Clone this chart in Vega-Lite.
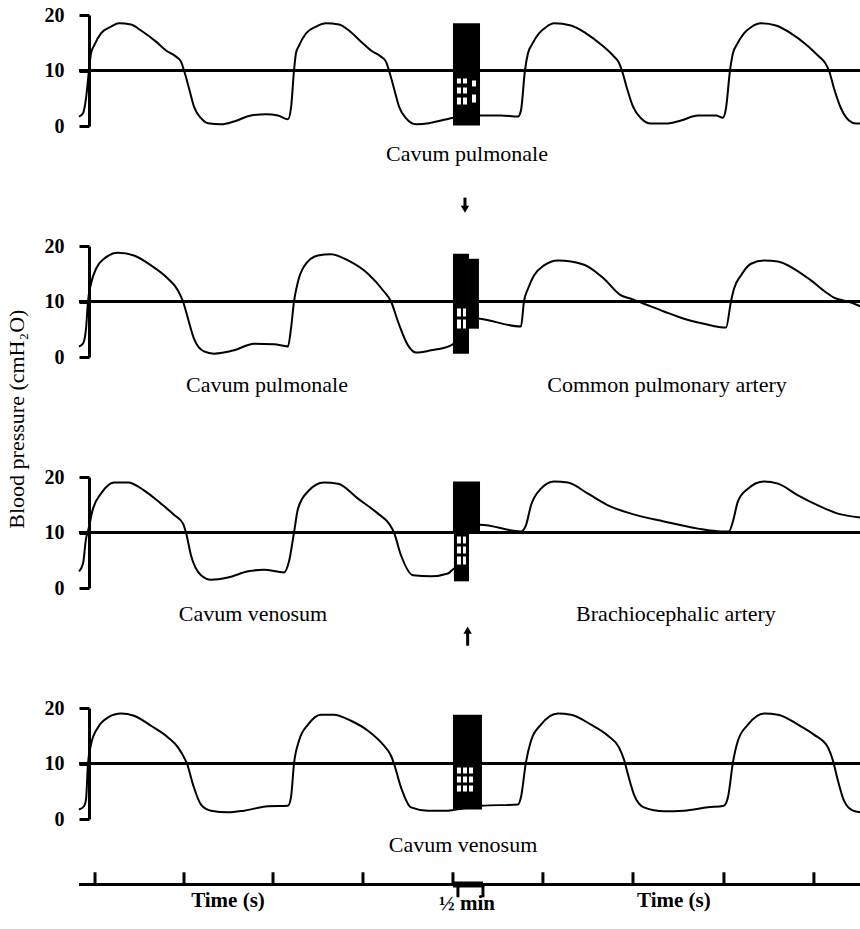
{
"$schema": "https://vega.github.io/schema/vega-lite/v6.json",
"padding": {"left": 5, "top": 5, "right": 0, "bottom": 0},
"background": "white",
"config": {"view": {"stroke": null}, "font": "Liberation Serif"},
"data": {"values": [
{"panel":1,"kind":"trace","t":0,"p":1.7},{"panel":1,"kind":"trace","t":0.045,"p":2.3},{"panel":1,"kind":"trace","t":0.079,"p":5.0},{"panel":1,"kind":"trace","t":0.112,"p":10},{"panel":1,"kind":"trace","t":0.135,"p":13.1},{"panel":1,"kind":"trace","t":0.169,"p":14.5},{"panel":1,"kind":"trace","t":0.247,"p":16.7},{"panel":1,"kind":"trace","t":0.36,"p":17.9},{"panel":1,"kind":"trace","t":0.449,"p":18.5},{"panel":1,"kind":"trace","t":0.584,"p":18.3},{"panel":1,"kind":"trace","t":0.697,"p":17.2},{"panel":1,"kind":"trace","t":0.865,"p":15.2},{"panel":1,"kind":"trace","t":0.978,"p":13.6},{"panel":1,"kind":"trace","t":1.09,"p":12.5},{"panel":1,"kind":"trace","t":1.146,"p":11.6},{"panel":1,"kind":"trace","t":1.18,"p":10},{"panel":1,"kind":"trace","t":1.236,"p":6.8},{"panel":1,"kind":"trace","t":1.292,"p":3.5},{"panel":1,"kind":"trace","t":1.371,"p":1.4},{"panel":1,"kind":"trace","t":1.449,"p":0.5},{"panel":1,"kind":"trace","t":1.596,"p":0.3},{"panel":1,"kind":"trace","t":1.742,"p":0.8},{"panel":1,"kind":"trace","t":1.933,"p":1.9},{"panel":1,"kind":"trace","t":2.101,"p":2.1},{"panel":1,"kind":"trace","t":2.236,"p":1.9},{"panel":1,"kind":"trace","t":2.348,"p":1.2},{"panel":1,"kind":"trace","t":2.382,"p":3.2},{"panel":1,"kind":"trace","t":2.416,"p":10},{"panel":1,"kind":"trace","t":2.438,"p":13.1},{"panel":1,"kind":"trace","t":2.472,"p":14.5},{"panel":1,"kind":"trace","t":2.551,"p":16.7},{"panel":1,"kind":"trace","t":2.663,"p":17.9},{"panel":1,"kind":"trace","t":2.775,"p":18.5},{"panel":1,"kind":"trace","t":2.921,"p":18.3},{"panel":1,"kind":"trace","t":3.034,"p":17.2},{"panel":1,"kind":"trace","t":3.169,"p":15.2},{"panel":1,"kind":"trace","t":3.281,"p":13.6},{"panel":1,"kind":"trace","t":3.393,"p":12.5},{"panel":1,"kind":"trace","t":3.449,"p":11.6},{"panel":1,"kind":"trace","t":3.483,"p":10},{"panel":1,"kind":"trace","t":3.539,"p":6.8},{"panel":1,"kind":"trace","t":3.596,"p":3.5},{"panel":1,"kind":"trace","t":3.674,"p":1.4},{"panel":1,"kind":"trace","t":3.787,"p":0.3},{"panel":1,"kind":"trace","t":3.933,"p":0.5},{"panel":1,"kind":"trace","t":4.067,"p":1.0},{"panel":1,"kind":"trace","t":4.213,"p":1.5},{"panel":1,"kind":"trace","t":4.35,"p":1.8},{"panel":1,"kind":"trace","t":4.517,"p":1.9},{"panel":1,"kind":"trace","t":4.742,"p":1.9},{"panel":1,"kind":"trace","t":4.933,"p":1.7},{"panel":1,"kind":"trace","t":4.966,"p":2.8},{"panel":1,"kind":"trace","t":5.011,"p":10},{"panel":1,"kind":"trace","t":5.045,"p":13.1},{"panel":1,"kind":"trace","t":5.09,"p":14.7},{"panel":1,"kind":"trace","t":5.169,"p":16.7},{"panel":1,"kind":"trace","t":5.247,"p":17.8},{"panel":1,"kind":"trace","t":5.337,"p":18.5},{"panel":1,"kind":"trace","t":5.528,"p":18.1},{"panel":1,"kind":"trace","t":5.697,"p":16.7},{"panel":1,"kind":"trace","t":5.865,"p":14.7},{"panel":1,"kind":"trace","t":6.0,"p":12.7},{"panel":1,"kind":"trace","t":6.067,"p":11.4},{"panel":1,"kind":"trace","t":6.101,"p":10},{"panel":1,"kind":"trace","t":6.157,"p":6.8},{"panel":1,"kind":"trace","t":6.225,"p":3.5},{"panel":1,"kind":"trace","t":6.315,"p":1.4},{"panel":1,"kind":"trace","t":6.427,"p":0.45},{"panel":1,"kind":"trace","t":6.596,"p":0.45},{"panel":1,"kind":"trace","t":6.764,"p":1.0},{"panel":1,"kind":"trace","t":6.955,"p":1.9},{"panel":1,"kind":"trace","t":7.157,"p":1.9},{"panel":1,"kind":"trace","t":7.236,"p":1.5},{"panel":1,"kind":"trace","t":7.27,"p":3.2},{"panel":1,"kind":"trace","t":7.315,"p":10},{"panel":1,"kind":"trace","t":7.348,"p":13.1},{"panel":1,"kind":"trace","t":7.393,"p":14.7},{"panel":1,"kind":"trace","t":7.472,"p":16.7},{"panel":1,"kind":"trace","t":7.551,"p":17.8},{"panel":1,"kind":"trace","t":7.663,"p":18.5},{"panel":1,"kind":"trace","t":7.831,"p":18.1},{"panel":1,"kind":"trace","t":8.0,"p":16.7},{"panel":1,"kind":"trace","t":8.169,"p":14.7},{"panel":1,"kind":"trace","t":8.303,"p":12.7},{"panel":1,"kind":"trace","t":8.382,"p":11.4},{"panel":1,"kind":"trace","t":8.427,"p":10},{"panel":1,"kind":"trace","t":8.483,"p":6.8},{"panel":1,"kind":"trace","t":8.562,"p":3.2},{"panel":1,"kind":"trace","t":8.652,"p":1.0},{"panel":1,"kind":"trace","t":8.73,"p":0.45},{"panel":1,"kind":"trace","t":8.787,"p":0.45},

{"panel":2,"kind":"trace","t":0,"p":1.9},{"panel":2,"kind":"trace","t":0.045,"p":2.4},{"panel":2,"kind":"trace","t":0.079,"p":5.1},{"panel":2,"kind":"trace","t":0.101,"p":10},{"panel":2,"kind":"trace","t":0.135,"p":13.2},{"panel":2,"kind":"trace","t":0.191,"p":15.9},{"panel":2,"kind":"trace","t":0.281,"p":17.7},{"panel":2,"kind":"trace","t":0.438,"p":18.8},{"panel":2,"kind":"trace","t":0.618,"p":18.3},{"panel":2,"kind":"trace","t":0.809,"p":16.5},{"panel":2,"kind":"trace","t":1.0,"p":14.1},{"panel":2,"kind":"trace","t":1.112,"p":12.0},{"panel":2,"kind":"trace","t":1.169,"p":10},{"panel":2,"kind":"trace","t":1.225,"p":6.9},{"panel":2,"kind":"trace","t":1.292,"p":3.3},{"panel":2,"kind":"trace","t":1.404,"p":1.0},{"panel":2,"kind":"trace","t":1.517,"p":0.6},{"panel":2,"kind":"trace","t":1.742,"p":1.2},{"panel":2,"kind":"trace","t":1.966,"p":2.4},{"panel":2,"kind":"trace","t":2.191,"p":2.3},{"panel":2,"kind":"trace","t":2.348,"p":1.9},{"panel":2,"kind":"trace","t":2.382,"p":5.1},{"panel":2,"kind":"trace","t":2.416,"p":10},{"panel":2,"kind":"trace","t":2.461,"p":13.6},{"panel":2,"kind":"trace","t":2.528,"p":16.3},{"panel":2,"kind":"trace","t":2.685,"p":18.3},{"panel":2,"kind":"trace","t":2.831,"p":18.5},{"panel":2,"kind":"trace","t":3.022,"p":17.4},{"panel":2,"kind":"trace","t":3.247,"p":15.0},{"panel":2,"kind":"trace","t":3.427,"p":11.8},{"panel":2,"kind":"trace","t":3.506,"p":10},{"panel":2,"kind":"trace","t":3.584,"p":6.4},{"panel":2,"kind":"trace","t":3.697,"p":2.1},{"panel":2,"kind":"trace","t":3.787,"p":0.8},{"panel":2,"kind":"trace","t":3.955,"p":1.2},{"panel":2,"kind":"trace","t":4.18,"p":2.1},{"panel":2,"kind":"trace","t":4.213,"p":2.4},{"panel":2,"kind":"trace","t":4.3,"p":2.6},{"panel":2,"kind":"trace","t":4.31,"p":7.2},{"panel":2,"kind":"trace","t":4.506,"p":6.9},{"panel":2,"kind":"trace","t":4.966,"p":5.5},{"panel":2,"kind":"trace","t":5.0,"p":10},{"panel":2,"kind":"trace","t":5.045,"p":12.3},{"panel":2,"kind":"trace","t":5.112,"p":14.7},{"panel":2,"kind":"trace","t":5.225,"p":16.5},{"panel":2,"kind":"trace","t":5.382,"p":17.4},{"panel":2,"kind":"trace","t":5.528,"p":17.2},{"panel":2,"kind":"trace","t":5.719,"p":16.3},{"panel":2,"kind":"trace","t":5.899,"p":14.1},{"panel":2,"kind":"trace","t":6.09,"p":11.1},{"panel":2,"kind":"trace","t":6.202,"p":10.5},{"panel":2,"kind":"trace","t":6.348,"p":9.6},{"panel":2,"kind":"trace","t":6.573,"p":8.2},{"panel":2,"kind":"trace","t":6.798,"p":6.9},{"panel":2,"kind":"trace","t":7.022,"p":6.0},{"panel":2,"kind":"trace","t":7.27,"p":5.3},{"panel":2,"kind":"trace","t":7.326,"p":10},{"panel":2,"kind":"trace","t":7.36,"p":12.3},{"panel":2,"kind":"trace","t":7.438,"p":14.7},{"panel":2,"kind":"trace","t":7.551,"p":16.8},{"panel":2,"kind":"trace","t":7.697,"p":17.4},{"panel":2,"kind":"trace","t":7.854,"p":17.2},{"panel":2,"kind":"trace","t":8.034,"p":15.9},{"panel":2,"kind":"trace","t":8.225,"p":13.8},{"panel":2,"kind":"trace","t":8.416,"p":11.4},{"panel":2,"kind":"trace","t":8.483,"p":10.7},{"panel":2,"kind":"trace","t":8.64,"p":10},{"panel":2,"kind":"trace","t":8.787,"p":9.1},

{"panel":3,"kind":"trace","t":0,"p":3.0},{"panel":3,"kind":"trace","t":0.045,"p":4.4},{"panel":3,"kind":"trace","t":0.079,"p":8.9},{"panel":3,"kind":"trace","t":0.101,"p":10.2},{"panel":3,"kind":"trace","t":0.157,"p":14.3},{"panel":3,"kind":"trace","t":0.247,"p":17.0},{"panel":3,"kind":"trace","t":0.393,"p":19.0},{"panel":3,"kind":"trace","t":0.551,"p":19.0},{"panel":3,"kind":"trace","t":0.73,"p":17.6},{"panel":3,"kind":"trace","t":0.921,"p":15.2},{"panel":3,"kind":"trace","t":1.067,"p":13.2},{"panel":3,"kind":"trace","t":1.169,"p":11.6},{"panel":3,"kind":"trace","t":1.202,"p":10},{"panel":3,"kind":"trace","t":1.258,"p":5.9},{"panel":3,"kind":"trace","t":1.371,"p":2.3},{"panel":3,"kind":"trace","t":1.483,"p":1.5},{"panel":3,"kind":"trace","t":1.674,"p":1.9},{"panel":3,"kind":"trace","t":1.899,"p":3.0},{"panel":3,"kind":"trace","t":2.079,"p":3.3},{"panel":3,"kind":"trace","t":2.303,"p":2.8},{"panel":3,"kind":"trace","t":2.36,"p":4.8},{"panel":3,"kind":"trace","t":2.416,"p":10},{"panel":3,"kind":"trace","t":2.461,"p":14.3},{"panel":3,"kind":"trace","t":2.573,"p":17.4},{"panel":3,"kind":"trace","t":2.753,"p":19.0},{"panel":3,"kind":"trace","t":2.91,"p":18.8},{"panel":3,"kind":"trace","t":3.135,"p":16.1},{"panel":3,"kind":"trace","t":3.36,"p":13.4},{"panel":3,"kind":"trace","t":3.483,"p":11.6},{"panel":3,"kind":"trace","t":3.539,"p":10},{"panel":3,"kind":"trace","t":3.618,"p":5.9},{"panel":3,"kind":"trace","t":3.753,"p":2.3},{"panel":3,"kind":"trace","t":3.955,"p":2.1},{"panel":3,"kind":"trace","t":4.146,"p":2.6},{"panel":3,"kind":"trace","t":4.213,"p":3.5},{"panel":3,"kind":"trace","t":4.3,"p":3.8},{"panel":3,"kind":"trace","t":4.31,"p":11.3},{"panel":3,"kind":"trace","t":4.506,"p":11.4},{"panel":3,"kind":"trace","t":4.966,"p":10.2},{"panel":3,"kind":"trace","t":5.022,"p":11.3},{"panel":3,"kind":"trace","t":5.079,"p":14.9},{"panel":3,"kind":"trace","t":5.191,"p":17.9},{"panel":3,"kind":"trace","t":5.337,"p":19.2},{"panel":3,"kind":"trace","t":5.494,"p":19.0},{"panel":3,"kind":"trace","t":5.719,"p":17.0},{"panel":3,"kind":"trace","t":5.944,"p":14.9},{"panel":3,"kind":"trace","t":6.202,"p":13.4},{"panel":3,"kind":"trace","t":6.573,"p":12.0},{"panel":3,"kind":"trace","t":6.955,"p":10.7},{"panel":3,"kind":"trace","t":7.213,"p":10.2},{"panel":3,"kind":"trace","t":7.303,"p":10.2},{"panel":3,"kind":"trace","t":7.348,"p":12.0},{"panel":3,"kind":"trace","t":7.404,"p":15.6},{"panel":3,"kind":"trace","t":7.517,"p":17.9},{"panel":3,"kind":"trace","t":7.697,"p":19.2},{"panel":3,"kind":"trace","t":7.854,"p":18.8},{"panel":3,"kind":"trace","t":8.079,"p":16.7},{"panel":3,"kind":"trace","t":8.303,"p":14.9},{"panel":3,"kind":"trace","t":8.528,"p":13.4},{"panel":3,"kind":"trace","t":8.787,"p":12.7},

{"panel":4,"kind":"trace","t":0,"p":1.7},{"panel":4,"kind":"trace","t":0.056,"p":2.3},{"panel":4,"kind":"trace","t":0.079,"p":3.5},{"panel":4,"kind":"trace","t":0.101,"p":10},{"panel":4,"kind":"trace","t":0.135,"p":13.4},{"panel":4,"kind":"trace","t":0.213,"p":16.5},{"panel":4,"kind":"trace","t":0.326,"p":18.3},{"panel":4,"kind":"trace","t":0.472,"p":19.0},{"panel":4,"kind":"trace","t":0.618,"p":18.6},{"panel":4,"kind":"trace","t":0.809,"p":16.8},{"panel":4,"kind":"trace","t":1.0,"p":14.7},{"panel":4,"kind":"trace","t":1.112,"p":12.9},{"panel":4,"kind":"trace","t":1.18,"p":11.1},{"panel":4,"kind":"trace","t":1.213,"p":10},{"panel":4,"kind":"trace","t":1.281,"p":6.2},{"panel":4,"kind":"trace","t":1.371,"p":2.6},{"panel":4,"kind":"trace","t":1.483,"p":1.5},{"panel":4,"kind":"trace","t":1.674,"p":1.2},{"panel":4,"kind":"trace","t":1.854,"p":1.5},{"panel":4,"kind":"trace","t":2.124,"p":2.3},{"panel":4,"kind":"trace","t":2.348,"p":2.4},{"panel":4,"kind":"trace","t":2.382,"p":3.9},{"panel":4,"kind":"trace","t":2.416,"p":10},{"panel":4,"kind":"trace","t":2.472,"p":14.1},{"panel":4,"kind":"trace","t":2.573,"p":17.0},{"panel":4,"kind":"trace","t":2.719,"p":18.8},{"panel":4,"kind":"trace","t":2.865,"p":18.8},{"panel":4,"kind":"trace","t":3.056,"p":17.7},{"panel":4,"kind":"trace","t":3.247,"p":15.9},{"panel":4,"kind":"trace","t":3.427,"p":13.2},{"panel":4,"kind":"trace","t":3.506,"p":11.4},{"panel":4,"kind":"trace","t":3.539,"p":10},{"panel":4,"kind":"trace","t":3.618,"p":5.7},{"panel":4,"kind":"trace","t":3.73,"p":2.1},{"panel":4,"kind":"trace","t":3.921,"p":1.5},{"panel":4,"kind":"trace","t":4.146,"p":1.5},{"panel":4,"kind":"trace","t":4.236,"p":1.7},{"panel":4,"kind":"trace","t":4.517,"p":2.4},{"panel":4,"kind":"trace","t":4.933,"p":2.6},{"panel":4,"kind":"trace","t":4.966,"p":3.9},{"panel":4,"kind":"trace","t":5.022,"p":10.2},{"panel":4,"kind":"trace","t":5.079,"p":14.1},{"panel":4,"kind":"trace","t":5.191,"p":17.0},{"panel":4,"kind":"trace","t":5.382,"p":19.0},{"panel":4,"kind":"trace","t":5.528,"p":18.8},{"panel":4,"kind":"trace","t":5.753,"p":17.0},{"panel":4,"kind":"trace","t":5.944,"p":15.0},{"panel":4,"kind":"trace","t":6.067,"p":12.9},{"panel":4,"kind":"trace","t":6.124,"p":10.7},{"panel":4,"kind":"trace","t":6.169,"p":8.0},{"panel":4,"kind":"trace","t":6.236,"p":4.4},{"panel":4,"kind":"trace","t":6.348,"p":2.1},{"panel":4,"kind":"trace","t":6.573,"p":1.4},{"panel":4,"kind":"trace","t":6.798,"p":1.5},{"panel":4,"kind":"trace","t":7.067,"p":2.1},{"panel":4,"kind":"trace","t":7.247,"p":2.4},{"panel":4,"kind":"trace","t":7.292,"p":3.9},{"panel":4,"kind":"trace","t":7.348,"p":10.2},{"panel":4,"kind":"trace","t":7.404,"p":14.1},{"panel":4,"kind":"trace","t":7.517,"p":17.0},{"panel":4,"kind":"trace","t":7.697,"p":19.0},{"panel":4,"kind":"trace","t":7.854,"p":18.8},{"panel":4,"kind":"trace","t":8.079,"p":17.0},{"panel":4,"kind":"trace","t":8.258,"p":15.2},{"panel":4,"kind":"trace","t":8.416,"p":12.9},{"panel":4,"kind":"trace","t":8.472,"p":10.5},{"panel":4,"kind":"trace","t":8.528,"p":6.9},{"panel":4,"kind":"trace","t":8.596,"p":3.3},{"panel":4,"kind":"trace","t":8.697,"p":1.5},{"panel":4,"kind":"trace","t":8.787,"p":1.2},

{"panel":1,"kind":"base","t":0,"t2":8.787,"p":10,"p2":10},
{"panel":2,"kind":"base","t":0,"t2":8.787,"p":10,"p2":10},
{"panel":3,"kind":"base","t":0,"t2":8.787,"p":10,"p2":10},
{"panel":4,"kind":"base","t":0,"t2":8.787,"p":10,"p2":10},

{"panel":1,"kind":"block","t":4.202,"t2":4.506,"p":0.1,"p2":18.5},
{"panel":2,"kind":"block","t":4.202,"t2":4.382,"p":0.6,"p2":18.6},
{"panel":2,"kind":"block","t":4.382,"t2":4.494,"p":5.1,"p2":17.7},
{"panel":3,"kind":"block","t":4.202,"t2":4.506,"p":9.8,"p2":19.2},
{"panel":3,"kind":"block","t":4.213,"t2":4.382,"p":1.2,"p2":10},
{"panel":4,"kind":"block","t":4.202,"t2":4.528,"p":1.7,"p2":18.8},

{"panel":1,"kind":"window","t":4.247,"t2":4.292,"p":7.66,"p2":8.56},
{"panel":1,"kind":"window","t":4.315,"t2":4.36,"p":7.66,"p2":8.56},
{"panel":1,"kind":"window","t":4.416,"t2":4.461,"p":7.12,"p2":8.2},
{"panel":1,"kind":"window","t":4.247,"t2":4.292,"p":5.86,"p2":6.94},
{"panel":1,"kind":"window","t":4.315,"t2":4.36,"p":5.86,"p2":6.94},
{"panel":1,"kind":"window","t":4.247,"t2":4.292,"p":3.87,"p2":5.13},
{"panel":1,"kind":"window","t":4.315,"t2":4.36,"p":3.87,"p2":5.13},
{"panel":1,"kind":"window","t":4.416,"t2":4.461,"p":4.23,"p2":5.68},
{"panel":2,"kind":"window","t":4.247,"t2":4.292,"p":7.3,"p2":8.74},
{"panel":2,"kind":"window","t":4.315,"t2":4.348,"p":7.3,"p2":8.74},
{"panel":2,"kind":"window","t":4.247,"t2":4.292,"p":5.13,"p2":6.76},
{"panel":2,"kind":"window","t":4.315,"t2":4.348,"p":5.13,"p2":6.76},
{"panel":3,"kind":"window","t":4.247,"t2":4.292,"p":8.02,"p2":9.28},
{"panel":3,"kind":"window","t":4.315,"t2":4.348,"p":8.02,"p2":9.28},
{"panel":3,"kind":"window","t":4.247,"t2":4.292,"p":6.22,"p2":7.48},
{"panel":3,"kind":"window","t":4.315,"t2":4.348,"p":6.22,"p2":7.48},
{"panel":3,"kind":"window","t":4.247,"t2":4.292,"p":4.23,"p2":5.68},
{"panel":3,"kind":"window","t":4.315,"t2":4.348,"p":4.23,"p2":5.68},
{"panel":4,"kind":"window","t":4.247,"t2":4.292,"p":8.2,"p2":9.28},
{"panel":4,"kind":"window","t":4.315,"t2":4.36,"p":8.2,"p2":9.28},
{"panel":4,"kind":"window","t":4.382,"t2":4.427,"p":8.2,"p2":9.28},
{"panel":4,"kind":"window","t":4.247,"t2":4.292,"p":6.58,"p2":7.66},
{"panel":4,"kind":"window","t":4.315,"t2":4.36,"p":6.58,"p2":7.66},
{"panel":4,"kind":"window","t":4.382,"t2":4.427,"p":6.58,"p2":7.66},
{"panel":4,"kind":"window","t":4.247,"t2":4.292,"p":4.95,"p2":6.04},
{"panel":4,"kind":"window","t":4.315,"t2":4.36,"p":4.95,"p2":6.04},
{"panel":4,"kind":"window","t":4.382,"t2":4.427,"p":4.95,"p2":6.04},

{"panel":4,"kind":"seg","t":0,"t2":8.787,"p":-11.8,"p2":-11.8},
{"panel":4,"kind":"seg","t":0.18,"t2":0.18,"p":-11.8,"p2":-9.6},
{"panel":4,"kind":"seg","t":1.18,"t2":1.18,"p":-11.8,"p2":-9.6},
{"panel":4,"kind":"seg","t":2.18,"t2":2.18,"p":-11.8,"p2":-9.6},
{"panel":4,"kind":"seg","t":3.191,"t2":3.191,"p":-11.8,"p2":-9.6},
{"panel":4,"kind":"seg","t":4.202,"t2":4.202,"p":-11.8,"p2":-9.6},
{"panel":4,"kind":"seg","t":5.213,"t2":5.213,"p":-11.8,"p2":-9.6},
{"panel":4,"kind":"seg","t":6.225,"t2":6.225,"p":-11.8,"p2":-9.6},
{"panel":4,"kind":"seg","t":7.247,"t2":7.247,"p":-11.8,"p2":-9.6},
{"panel":4,"kind":"seg","t":8.258,"t2":8.258,"p":-11.8,"p2":-9.6},
{"panel":4,"kind":"seg","t":4.258,"t2":4.258,"p":-11.8,"p2":-14.1},
{"panel":4,"kind":"seg","t":4.539,"t2":4.539,"p":-11.8,"p2":-14.1},
{"panel":4,"kind":"thick","t":4.202,"t2":4.539,"p":-11.8,"p2":-11.8},

{"panel":1,"kind":"shaft","t":4.337,"t2":4.337,"p":-12.9,"p2":-14.6},
{"panel":1,"kind":"headdown","t":4.337,"p":-15.0},
{"panel":3,"kind":"shaft","t":4.367,"t2":4.367,"p":-8.0,"p2":-10.4},
{"panel":3,"kind":"headup","t":4.367,"p":-7.6},

{"panel":1,"kind":"label","t":4.36,"p":-6.3,"label":"Cavum pulmonale"},
{"panel":2,"kind":"label","t":2.112,"p":-6.3,"label":"Cavum  pulmonale"},
{"panel":2,"kind":"label","t":6.607,"p":-6.3,"label":"Common pulmonary artery"},
{"panel":3,"kind":"label","t":1.955,"p":-6.0,"label":"Cavum venosum"},
{"panel":3,"kind":"label","t":6.708,"p":-6.0,"label":"Brachiocephalic artery"},
{"panel":4,"kind":"label","t":4.315,"p":-6.0,"label":"Cavum venosum"},
{"panel":4,"kind":"boldlabel","t":1.674,"p":-15.8,"label":"Time (s)"},
{"panel":4,"kind":"boldlabel","t":6.685,"p":-15.8,"label":"Time (s)"},
{"panel":4,"kind":"boldlabel","t":4.36,"p":-16.4,"label":"½ min"},
{"panel":2,"kind":"ytitle","t":-0.697,"p":-11.2,"label":"Blood pressure (cmH₂O)"}
]},
"facet": {"row": {"field": "panel", "type": "ordinal", "header": {"labels": false, "title": null}}},
"spacing": {"row": 120},
"bounds": "flush",
"spec": {
  "width": 782,
  "height": 111,
  "encoding": {
    "x": {"field": "t", "type": "quantitative", "scale": {"domain": [0, 8.787], "nice": false, "zero": false}, "axis": null},
    "y": {"field": "p", "type": "quantitative", "scale": {"domain": [0, 20], "nice": false},
          "axis": {"values": [0, 10, 20], "offset": -10, "tickSize": 10, "tickWidth": 3, "tickColor": "black", "domainWidth": 3, "domainColor": "black", "labelFont": "Liberation Serif", "labelFontSize": 20, "labelFontWeight": "bold", "labelColor": "black", "labelPadding": 15, "labelFlush": false, "title": null, "grid": false}}
  },
  "layer": [
    {"transform": [{"filter": "datum.kind === 'trace'"}], "mark": {"type": "line", "color": "black", "strokeWidth": 2, "interpolate": "monotone"}},
    {"transform": [{"filter": "datum.kind === 'base'"}], "mark": {"type": "rule", "color": "black", "strokeWidth": 3}, "encoding": {"x2": {"field": "t2"}, "y2": {"field": "p2"}}},
    {"transform": [{"filter": "datum.kind === 'block'"}], "mark": {"type": "rect", "color": "black"}, "encoding": {"x2": {"field": "t2"}, "y2": {"field": "p2"}}},
    {"transform": [{"filter": "datum.kind === 'window'"}], "mark": {"type": "rect", "color": "white"}, "encoding": {"x2": {"field": "t2"}, "y2": {"field": "p2"}}},
    {"transform": [{"filter": "datum.kind === 'seg'"}], "mark": {"type": "rule", "color": "black", "strokeWidth": 3}, "encoding": {"x2": {"field": "t2"}, "y2": {"field": "p2"}}},
    {"transform": [{"filter": "datum.kind === 'thick'"}], "mark": {"type": "rule", "color": "black", "strokeWidth": 6}, "encoding": {"x2": {"field": "t2"}, "y2": {"field": "p2"}}},
    {"transform": [{"filter": "datum.kind === 'shaft'"}], "mark": {"type": "rule", "color": "black", "strokeWidth": 3}, "encoding": {"x2": {"field": "t2"}, "y2": {"field": "p2"}}},
    {"transform": [{"filter": "datum.kind === 'headdown'"}], "mark": {"type": "point", "shape": "triangle-down", "filled": true, "size": 70, "color": "black", "opacity": 1}},
    {"transform": [{"filter": "datum.kind === 'headup'"}], "mark": {"type": "point", "shape": "triangle-up", "filled": true, "size": 70, "color": "black", "opacity": 1}},
    {"transform": [{"filter": "datum.kind === 'label'"}], "mark": {"type": "text", "font": "Liberation Serif", "fontSize": 22, "align": "center", "baseline": "alphabetic", "color": "black"}, "encoding": {"text": {"field": "label"}}},
    {"transform": [{"filter": "datum.kind === 'boldlabel'"}], "mark": {"type": "text", "font": "Liberation Serif", "fontSize": 21, "fontWeight": "bold", "align": "center", "baseline": "alphabetic", "color": "black"}, "encoding": {"text": {"field": "label"}}},
    {"transform": [{"filter": "datum.kind === 'ytitle'"}], "mark": {"type": "text", "font": "Liberation Serif", "fontSize": 22, "angle": 270, "align": "center", "baseline": "middle", "color": "black"}, "encoding": {"text": {"field": "label"}}}
  ]
}
}
